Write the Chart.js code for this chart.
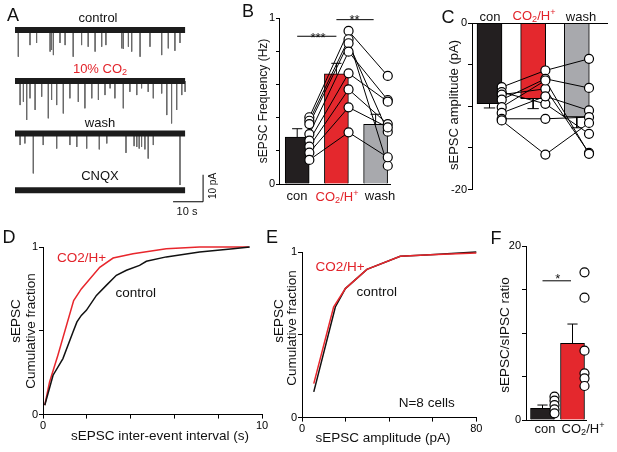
<!DOCTYPE html>
<html>
<head>
<meta charset="utf-8">
<script src="https://cdn.jsdelivr.net/npm/chart.js@4.4.0/dist/chart.umd.min.js"></script>
<style>
  body { margin: 0; background: #fff; font-family: "Liberation Sans", Arial, sans-serif; }
  #fig { position: relative; width: 617px; height: 452px; overflow: hidden; background: #fff; }
  .box { position: absolute; }
  .t { position: absolute; white-space: nowrap; transform: translate(-50%, -50%); line-height: 1; color: #111; font-size: 13px; }
  .v { transform: translate(-50%, -50%) rotate(-90deg); }
  .red { color: #e2232a; }
  .L { font-size: 18px; }
  sub { font-size: 0.7em; vertical-align: -0.25em; line-height: 0; }
  sup { font-size: 0.7em; vertical-align: 0.5em; line-height: 0; }
</style>
</head>
<body>
<div id="fig">
  <div class="box" id="boxA"><canvas id="chartA"></canvas></div>
  <div class="box" id="boxB"><canvas id="chartB"></canvas></div>
  <div class="box" id="boxC"><canvas id="chartC"></canvas></div>
  <div class="box" id="boxD"><canvas id="chartD"></canvas></div>
  <div class="box" id="boxE"><canvas id="chartE"></canvas></div>
  <div class="box" id="boxF"><canvas id="chartF"></canvas></div>

  <!-- panel letters -->
  <div class="t L" style="left:13px;top:15px">A</div>
  <div class="t L" style="left:248px;top:11px">B</div>
  <div class="t L" style="left:448px;top:17px">C</div>
  <div class="t L" style="left:9px;top:237px">D</div>
  <div class="t L" style="left:272px;top:237px">E</div>
  <div class="t L" style="left:496px;top:238px">F</div>

  <!-- A -->
  <div class="t" style="left:98px;top:17px">control</div>
  <div class="t red" style="left:100px;top:68px">10% CO<sub>2</sub></div>
  <div class="t" style="left:100px;top:122px">wash</div>
  <div class="t" style="left:100px;top:175px">CNQX</div>
  <div class="t v" style="left:213px;top:186px;font-size:10px">10 pA</div>
  <div class="t" style="left:187px;top:211px;font-size:11px">10 s</div>

  <!-- B -->
  <div class="t v" style="left:262.5px;top:101px;font-size:12px">sEPSC Frequency (Hz)</div>
  <div class="t" style="left:297px;top:195px">con</div>
  <div class="t red" style="left:337px;top:196px">CO<sub>2</sub>/H<sup>+</sup></div>
  <div class="t" style="left:380px;top:195px">wash</div>
  <div class="t" style="left:318px;top:37px">***</div>
  <div class="t" style="left:354.5px;top:19px">**</div>

  <!-- C -->
  <div class="t v" style="left:452.5px;top:105px">sEPSC amplitude (pA)</div>
  <div class="t" style="left:490px;top:16px">con</div>
  <div class="t red" style="left:534px;top:15px">CO<sub>2</sub>/H<sup>+</sup></div>
  <div class="t" style="left:581px;top:16px">wash</div>

  <!-- D -->
  <div class="t v" style="left:15.8px;top:320.5px;font-size:13.5px">sEPSC</div>
  <div class="t v" style="left:30.8px;top:331px;font-size:13.5px">Cumulative fraction</div>
  <div class="t red" style="left:81.7px;top:258.3px;font-size:13.5px">CO2/H+</div>
  <div class="t" style="left:135.7px;top:293.3px;font-size:13.5px">control</div>
  <div class="t" style="left:160px;top:436px;font-size:13.5px">sEPSC inter-event interval (s)</div>

  <!-- E -->
  <div class="t v" style="left:279px;top:320.5px;font-size:13.5px">sEPSC</div>
  <div class="t v" style="left:292px;top:328px;font-size:13.5px">Cumulative fraction</div>
  <div class="t red" style="left:340px;top:266.7px;font-size:13.5px">CO2/H+</div>
  <div class="t" style="left:376.7px;top:291.7px;font-size:13.5px">control</div>
  <div class="t" style="left:426.7px;top:403.3px;font-size:13.5px">N=8 cells</div>
  <div class="t" style="left:383px;top:438px;font-size:13.5px">sEPSC amplitude (pA)</div>

  <!-- F -->
  <div class="t v" style="left:505px;top:335px;font-size:13.5px">sEPSC/sIPSC ratio</div>
  <div class="t" style="left:545px;top:428px">con</div>
  <div class="t" style="left:583px;top:428px">CO<sub>2</sub>/H<sup>+</sup></div>
  <div class="t" style="left:557.7px;top:278px">*</div>
</div>

<script>
/* ---------- data ---------- */

// A: spontaneous EPSCs in each sweep, event time (s) and amplitude (pA)
const ctlT = [1.1, 5.0, 7.2, 11.7, 12.2, 12.8, 15.0, 16.7, 19.4, 22.2, 24.4, 26.7, 28.9, 30.3, 35.6, 36.1, 37.8, 38.9, 41.7, 45.0, 48.9, 51.1, 53.3, 55.0];
const ctlAmp = [9.9, 5.6, 4.8, 8.0, 7.4, 9.3, 4.8, 5.6, 9.9, 5.6, 6.2, 8.0, 6.2, 5.6, 6.8, 7.0, 6.2, 8.0, 9.9, 6.2, 9.3, 6.8, 7.7, 4.8];
const co2T = [1.7, 2.8, 3.9, 5.0, 6.7, 8.9, 11.1, 12.2, 13.9, 16.1, 18.3, 21.1, 23.3, 25.6, 27.8, 30.0, 31.7, 33.3, 36.1, 38.3, 40.6, 42.2, 44.4, 46.1, 48.9, 50.6, 52.2, 53.9, 55.6, 56.7];
const co2Amp = [8.9, 7.7, 14.4, 6.4, 10.7, 5.8, 13.8, 7.0, 8.9, 12.0, 6.4, 7.7, 10.1, 6.4, 7.0, 5.2, 2.7, 6.4, 10.1, 4.0, 5.2, 2.7, 4.0, 6.4, 4.6, 12.6, 15.7, 10.7, 5.2, 4.0];
const washT = [1.7, 3.3, 6.1, 9.4, 13.9, 18.3, 20.6, 23.9, 28.1, 30.6, 37.0, 39.7, 40.6, 41.4, 42.2, 43.3, 44.4, 46.1, 55.0];
const washAmp = [4.3, 3.7, 14.8, 4.3, 5.6, 4.3, 5.0, 5.6, 5.9, 3.7, 7.2, 4.7, 5.0, 5.6, 5.0, 5.9, 9.3, 4.3, 19.1];
const cnqxT = [];
const cnqxAmp = [];
const sweepLen = 56.7; // s

// B: sEPSC frequency (Hz), bars = mean, whisker = SEM, one value per cell
const freqMean = [0.283, 0.663, 0.36];
const freqSem = [0.05, 0.064, 0.06];
const freqCon = [0.402, 0.381, 0.361, 0.301, 0.261, 0.225, 0.189, 0.145];
const freqCo2 = [0.922, 0.872, 0.848, 0.797, 0.667, 0.570, 0.462, 0.311];
const freqWash = [0.651, 0.110, 0.315, 0.506, 0.496, 0.361, 0.341, 0.161];

// C: sEPSC amplitude (pA)
const ampMean = [-9.68, -9.08, -11.28];
const ampSem = [0.52, 1.2, 1.3];
const ampCon = [-7.7, -8.3, -8.6, -9.2, -10.1, -10.8, -11.5, -11.7];
const ampCo2 = [-5.7, -9.7, -7.9, -6.7, -6.9, -8.8, -11.5, -15.8];
const ampWash = [-4.3, -13.3, -15.6, -7.8, -15.7, -10.5, -11.3, -12.0];

// D: cumulative inter-event interval (s)
const ctlInt = [0.08, 0.46, 0.91, 1.37, 1.55, 1.75, 1.98, 2.44, 2.89, 3.35, 3.81, 4.41, 4.72, 5.63, 7.15, 8.68, 9.44];
const ctlIntCum = [0.056, 0.235, 0.334, 0.493, 0.553, 0.592, 0.622, 0.711, 0.771, 0.831, 0.861, 0.89, 0.915, 0.941, 0.970, 0.990, 1.0];
const co2Int = [0.08, 0.3, 0.68, 1.40, 1.75, 2.59, 3.2, 4.11, 5.63, 7.15, 9.4];
const co2IntCum = [0.056, 0.195, 0.354, 0.68, 0.75, 0.879, 0.934, 0.96, 0.99, 1.0, 1.0];

// E: cumulative amplitude (pA)
const ctlAmpBins = [5.4, 15.3, 19.9, 29.8, 45.1, 58.9, 80];
const ctlAmpCum = [0.155, 0.668, 0.779, 0.895, 0.974, 0.984, 1.0];
const co2AmpBins = [5.4, 14.5, 19.9, 29.8, 45.1, 58.9, 80];
const co2AmpCum = [0.205, 0.668, 0.779, 0.895, 0.974, 0.984, 0.994];

// F: sEPSC/sIPSC ratio
const ratioMean = [1.34, 8.81];
const ratioSem = [0.38, 2.22];
const ratioCon = [2.68, 2.22, 1.72, 1.23, 0.77];
const ratioCo2 = [16.97, 14.06, 7.97, 5.36, 4.79, 3.91];

/* ---------- helpers ---------- */

const BLACK = '#231f20', RED = '#e4282d', GREY = '#a8a9ad';
const tickFont = { family: '"Liberation Sans", Arial, sans-serif', size: 11 };

// put the canvas so that the plot area lands on area (page px); m = room for axes
function place(id, a, m) {
  const el = document.getElementById(id);
  el.style.left = (a.l - m.l) + 'px';
  el.style.top = (a.t - m.t) + 'px';
  el.style.width = (a.r - a.l + m.l + m.r) + 'px';
  el.style.height = (a.b - a.t + m.t + m.b) + 'px';
}

// numeric axis with ticks, only the two end values labelled
function numAxis(min, max, step, size, extra) {
  return Object.assign({
    type: 'linear', min: min, max: max, offset: false,
    afterFit: s => { if (s.isHorizontal()) s.height = size; else s.width = size; },
    border: { display: true, color: '#000', width: 1, z: 1 },
    grid: { display: true, drawOnChartArea: false, drawTicks: true, tickLength: 4, color: '#000', tickColor: '#000' },
    ticks: {
      stepSize: step, autoSkip: false, maxRotation: 0, color: '#000', font: tickFont, padding: 1,
      callback: (v, i, arr) => (i === 0 || i === arr.length - 1) ? String(v) : ''
    }
  }, extra || {});
}

// category axis made linear so points can sit beside the bars
function groupAxis(min, max, size, pos) {
  return {
    type: 'linear', min: min, max: max, offset: false, position: pos || 'bottom',
    afterFit: s => { s.height = size; },
    border: { display: true, color: '#000', width: 1, z: 1 },
    grid: { display: false },
    ticks: { display: false }
  };
}

function baseOpts(pad) {
  return {
    responsive: true, maintainAspectRatio: false, animation: false,
    layout: { padding: pad },
    plugins: { legend: { display: false }, tooltip: { enabled: false } }
  };
}

function errBars(xs, means, sems, cap, dir) {
  const p = [];
  xs.forEach((x, i) => {
    const end = means[i] + dir * sems[i];
    p.push({ x: x, y: means[i] }, { x: x, y: end }, { x: x, y: null },
           { x: x - cap, y: end }, { x: x + cap, y: end }, { x: x, y: null });
  });
  return p;
}

function pairLines(xs, cols) {
  return cols[0].map((_, i) => ({
    type: 'line', data: cols.map((c, k) => ({ x: xs[k], y: c[i] })),
    borderColor: '#000', borderWidth: 1, pointRadius: 0, clip: false, order: 3
  }));
}

function dots(xs, cols) {
  const pts = [];
  cols.forEach((c, k) => c.forEach(v => pts.push({ x: xs[k], y: v })));
  return {
    type: 'line', data: pts, showLine: false, pointRadius: 4.5, pointBorderWidth: 1.2,
    pointBackgroundColor: '#fff', pointBorderColor: '#000', clip: false, order: 1
  };
}

function barSet(xs, means, colors, width) {
  return {
    type: 'bar', data: xs.map((x, i) => ({ x: x, y: means[i] })),
    backgroundColor: colors, borderColor: '#000', borderWidth: 1,
    barThickness: width, grouped: false, order: 5
  };
}

function segs(list) {
  const p = [];
  list.forEach(s => p.push({ x: s[0], y: s[2] }, { x: s[1], y: s[2] }, { x: s[0], y: null }));
  return { type: 'line', data: p, borderColor: '#000', borderWidth: 1, pointRadius: 0, clip: false, order: 2 };
}

function lineSet(xs, ys, color) {
  return {
    type: 'line', data: xs.map((x, i) => ({ x: x, y: ys[i] })),
    borderColor: color, borderWidth: 1.5, pointRadius: 0, tension: 0, clip: false
  };
}

/* ---------- A: example sweeps ---------- */
const sweepOff = [0, -18.9, -38.3, -59.3];
function sweepEvents(ts, amps, off) {
  const p = [];
  ts.forEach((t, i) => p.push({ x: t, y: off }, { x: t, y: off - amps[i] }, { x: t, y: null }));
  return p;
}
const sweepsT = [ctlT, co2T, washT, cnqxT];
const sweepsAmp = [ctlAmp, co2Amp, washAmp, cnqxAmp];
const dsA = [];
sweepOff.forEach((off, k) => {
  dsA.push({ data: [{ x: 0, y: off }, { x: sweepLen, y: off }], borderColor: '#1c1c1c', borderWidth: 6, pointRadius: 0 });
  dsA.push({ data: sweepEvents(sweepsT[k], sweepsAmp[k], off), borderColor: '#6a6a6a', borderWidth: 1, pointRadius: 0 });
});
// 10 s / 10 pA scale bar
dsA.push({ data: [{ x: 52.7, y: -63.6 }, { x: 62.7, y: -63.6 }, { x: 62.7, y: -53.6 }], borderColor: '#000', borderWidth: 1, pointRadius: 0 });

place('boxA', { l: 15, t: 0, r: 215, b: 215 }, { l: 0, t: 0, r: 0, b: 0 });
new Chart(document.getElementById('chartA'), {
  type: 'line',
  data: { datasets: dsA },
  options: Object.assign(baseOpts(0), {
    scales: {
      x: { type: 'linear', display: false, min: 0, max: 66.67 },
      y: { type: 'linear', display: false, min: -68.5, max: 11.1 }
    }
  })
});

/* ---------- B: frequency ---------- */
const mB = { l: 30, t: 12, r: 12, b: 20 };
const xB = [1, 2, 3], xBdots = [1.31, 2.31, 3.31];
place('boxB', { l: 279, t: 18, r: 390, b: 184 }, mB);
new Chart(document.getElementById('chartB'), {
  data: {
    datasets: [
      barSet(xB, freqMean, [BLACK, RED, GREY], 24),
      { type: 'line', data: errBars(xB, freqMean, freqSem, 0.13, 1), borderColor: '#000', borderWidth: 1, pointRadius: 0, order: 4 },
      ...pairLines(xBdots, [freqCon, freqCo2, freqWash]),
      segs([[1, 2, 0.89], [2, 2.95, 0.99]]),
      dots(xBdots, [freqCon, freqCo2, freqWash])
    ]
  },
  options: Object.assign(baseOpts({ left: 0, top: mB.t, right: mB.r, bottom: 0 }), {
    scales: {
      x: groupAxis(0.536, 3.367, mB.b),
      y: numAxis(0, 1, 0.2, mB.l, { grid: { display: true, drawOnChartArea: false, tickLength: 3, color: '#000', tickColor: '#000' } })
    }
  })
});

/* ---------- C: amplitude ---------- */
const mC = { l: 30, t: 12, r: 8, b: 12 };
const xC = [1, 2, 3], xCdots = [1.28, 2.28, 3.28];
place('boxC', { l: 471.7, t: 22.7, r: 607, b: 189.3 }, mC);
new Chart(document.getElementById('chartC'), {
  data: {
    datasets: [
      barSet(xC, ampMean, [BLACK, RED, GREY], 25),
      { type: 'line', data: errBars(xC, ampMean, ampSem, 0.13, -1), borderColor: '#000', borderWidth: 1, pointRadius: 0, order: 4 },
      ...pairLines(xCdots, [ampCon, ampCo2, ampWash]),
      dots(xCdots, [ampCon, ampCo2, ampWash])
    ]
  },
  options: Object.assign(baseOpts({ left: 0, top: 0, right: mC.r, bottom: mC.b }), {
    scales: {
      x: groupAxis(0.599, 3.699, mC.t, 'top'),
      y: numAxis(-20, 0, 5, mC.l)
    }
  })
});

/* ---------- D: inter-event interval CDF ---------- */
const mD = { l: 30, t: 12, r: 14, b: 22 };
place('boxD', { l: 43.3, t: 246.7, r: 262.3, b: 414.3 }, mD);
new Chart(document.getElementById('chartD'), {
  type: 'line',
  data: { datasets: [lineSet(ctlInt, ctlIntCum, '#111'), lineSet(co2Int, co2IntCum, '#e8262c')] },
  options: Object.assign(baseOpts({ left: 0, top: mD.t, right: mD.r, bottom: 0 }), {
    scales: {
      x: numAxis(0, 10, 2, mD.b),
      y: numAxis(0, 1, 0.5, mD.l)
    }
  })
});

/* ---------- E: amplitude CDF ---------- */
const mE = { l: 30, t: 12, r: 14, b: 22 };
place('boxE', { l: 301.7, t: 251.7, r: 476, b: 417.3 }, mE);
new Chart(document.getElementById('chartE'), {
  type: 'line',
  data: { datasets: [lineSet(co2AmpBins, co2AmpCum, '#e8262c'), lineSet(ctlAmpBins, ctlAmpCum, '#111')] },
  options: Object.assign(baseOpts({ left: 0, top: mE.t, right: mE.r, bottom: 0 }), {
    scales: {
      x: numAxis(0, 80, 20, mE.b),
      y: numAxis(0, 1, 0.5, mE.l)
    }
  })
});

/* ---------- F: E/I ratio ---------- */
const mF = { l: 30, t: 12, r: 12, b: 20 };
const xF = [1, 2], xFdots = [1.4, 2.4];
place('boxF', { l: 526, t: 246, r: 586, b: 420 }, mF);
new Chart(document.getElementById('chartF'), {
  data: {
    datasets: [
      barSet(xF, ratioMean, [BLACK, RED], 24),
      { type: 'line', data: errBars(xF, ratioMean, ratioSem, 0.17, 1), borderColor: '#000', borderWidth: 1, pointRadius: 0, order: 4 },
      segs([[1, 1.95, 16]]),
      dots(xFdots, [ratioCon, ratioCo2])
    ]
  },
  options: Object.assign(baseOpts({ left: 0, top: mF.t, right: mF.r, bottom: 0 }), {
    scales: {
      x: groupAxis(0.45, 2.45, mF.b),
      y: numAxis(0, 20, 5, mF.l)
    }
  })
});
</script>
</body>
</html>
